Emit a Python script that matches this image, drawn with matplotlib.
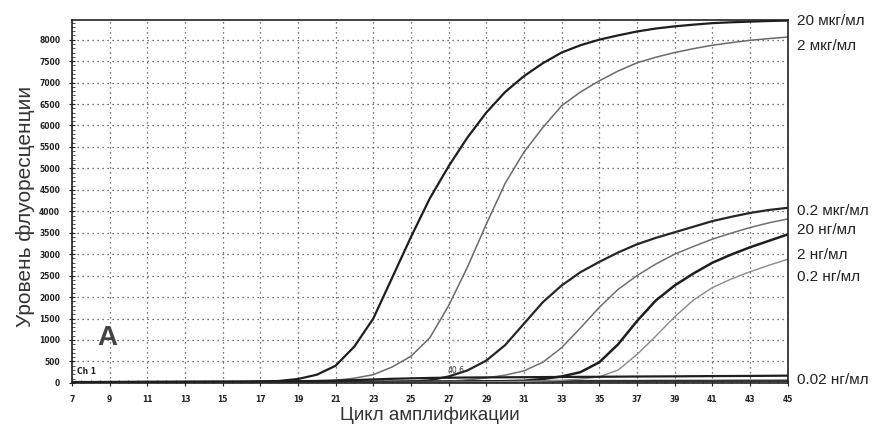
import numpy as np
import matplotlib.pyplot as plt

# amplification cycles
cycles = list(range(7, 46))

# fluorescence readings, one value per cycle (7..45)
c_20ug = [0, 0, 0, 0, 0, 5, 5, 8, 10, 15, 25, 45, 90, 190, 400, 850, 1500, 2450,
          3400, 4300, 5050, 5720, 6300, 6780, 7150, 7450, 7700, 7870, 8000, 8100,
          8190, 8260, 8310, 8350, 8385, 8405, 8420, 8435, 8445]
c_2ug = [0, 0, 0, 0, 0, 0, 0, 0, 0, 5, 8, 10, 15, 30, 60, 110, 190, 370,
         620, 1050, 1800, 2700, 3700, 4650, 5380, 5950, 6460, 6780, 7040, 7270,
         7460, 7590, 7700, 7790, 7870, 7930, 7985, 8025, 8060]
c_02ug = [0, 0, 0, 0, 0, 0, 0, 0, 0, 0, 0, 5, 5, 8, 10, 12, 15, 20,
          30, 60, 150, 290, 520, 880, 1380, 1880, 2270, 2580, 2820, 3040,
          3230, 3380, 3510, 3640, 3770, 3870, 3960, 4030, 4080]
c_20ng = [0, 0, 0, 0, 0, 0, 0, 0, 0, 0, 0, 0, 5, 5, 8, 10, 12, 15,
          20, 30, 40, 70, 115, 180, 280, 480, 820, 1280, 1760, 2180,
          2500, 2770, 3000, 3180, 3350, 3490, 3620, 3730, 3820]
c_2ng = [0, 0, 0, 0, 0, 0, 0, 0, 0, 0, 0, 0, 0, 5, 5, 8, 10, 12,
         15, 20, 25, 30, 35, 40, 50, 90, 150, 250, 480, 900,
         1440, 1920, 2270, 2550, 2800, 2990, 3160, 3310, 3460]
c_02ng = [0, 0, 0, 0, 0, 0, 0, 0, 0, 0, 0, 0, 0, 0, 5, 5, 8, 10,
          12, 15, 18, 20, 25, 30, 35, 45, 60, 90, 140, 300,
          660, 1090, 1540, 1930, 2220, 2420, 2590, 2740, 2880]
c_002ng = [20, 20, 22, 22, 25, 25, 28, 30, 30, 32, 35, 38, 40, 45, 55, 65, 80, 95,
           105, 115, 120, 125, 128, 130, 132, 135, 138, 140, 142, 145,
           148, 150, 152, 155, 158, 160, 162, 165, 168]
c_neg = [15, 15, 15, 18, 18, 20, 20, 20, 22, 22, 25, 25, 25, 28, 28, 30, 30, 30,
         32, 32, 35, 35, 35, 38, 38, 40, 40, 40, 42, 42,
         42, 45, 45, 45, 45, 48, 48, 48, 50]

series = [
    (c_20ug, '20 мкг/мл', '#1e1e1e', 1.6, 8445),
    (c_2ug, '2 мкг/мл', '#6a6a6a', 1.1, 7850),
    (c_02ug, '0.2 мкг/мл', '#262626', 1.6, 4000),
    (c_20ng, '20 нг/мл', '#707070', 1.1, 3560),
    (c_2ng, '2 нг/мл', '#1e1e1e', 1.8, 2990),
    (c_02ng, '0.2 нг/мл', '#8a8a8a', 1.0, 2470),
    (c_002ng, '0.02 нг/мл', '#1e1e1e', 1.6, 60),
]

fig = plt.figure(figsize=(8.83, 4.24), dpi=100)
ax = fig.add_axes([0.0815, 0.097, 0.8105, 0.856])

ax.plot(cycles, c_neg, color='#333333', linewidth=1.8)
for vals, name, col, lw, ylab in series:
    ax.plot(cycles, vals, color=col, linewidth=lw)
    ax.text(45.5, ylab, name, fontsize=11, family='Liberation Sans',
            color='#222222', va='center', ha='left', clip_on=False)

ax.set_xlim(7, 45)
ax.set_ylim(0, 8460)
ax.set_xticks(range(7, 46, 2))
ax.set_yticks(range(0, 8001, 500))
ax.set_xticks(np.arange(7, 45.01, 0.5), minor=True)
ax.set_yticks(range(0, 8401, 100), minor=True)

ax.grid(True, which='major', color='#444444', linestyle=(0, (1, 3)), linewidth=0.9)
ax.tick_params(which='major', direction='inout', length=5, width=0.8,
               labelsize=5.5, pad=6, colors='#222222')
ax.tick_params(which='minor', direction='in', length=2, width=0.6, colors='#333333')
for lab in ax.get_xticklabels() + ax.get_yticklabels():
    lab.set_fontweight('bold')
for sp in ax.spines.values():
    sp.set_color('#222222')
    sp.set_linewidth(1.2)

ax.set_ylabel('Уровень флуоресценции', fontsize=15, family='Liberation Sans',
              color='#333333')
ax.yaxis.set_label_coords(-0.052, 0.485)
ax.set_xlabel('Цикл амплификации', fontsize=13.5, family='Liberation Sans',
              color='#333333', labelpad=2)

ax.text(8.9, 1050, 'A', fontsize=20, fontweight='bold', family='Liberation Sans',
        color='#444444', ha='center', va='center')
ax.text(7.25, 170, 'Ch 1', fontsize=5.5, fontweight='bold', color='#222222',
        ha='left', va='bottom')
ax.text(27.4, 180, '40.6', fontsize=5.5, color='#333333', ha='center', va='bottom')

fig.savefig('out.png', dpi=100)
